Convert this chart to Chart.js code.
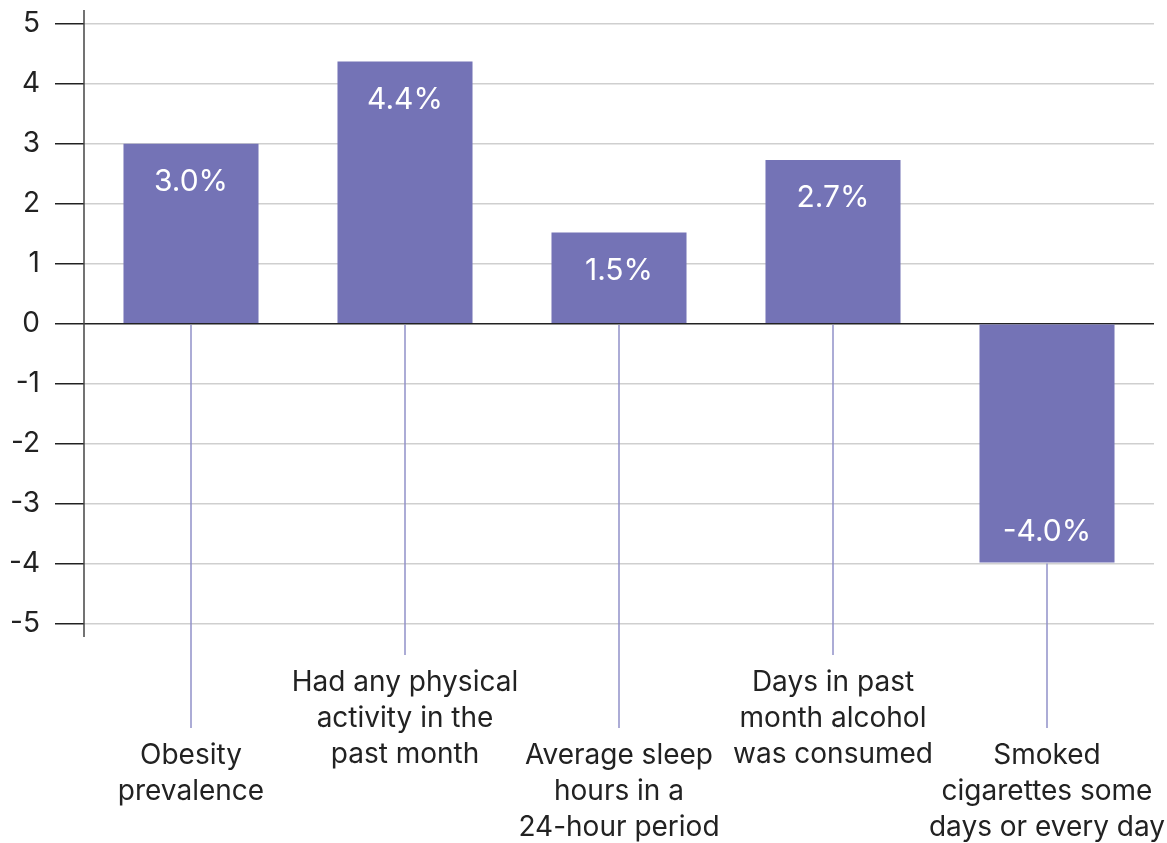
<!DOCTYPE html>
<html>
<head>
<meta charset="utf-8">
<script src="https://cdn.jsdelivr.net/npm/chart.js@4"></script>
<style>
  html, body { margin: 0; padding: 0; background: #fff; }
  #wrap { width: 1167px; height: 843px; position: relative; }
</style>
</head>
<body>
<div id="wrap"><canvas id="barChart"></canvas></div>
<script>
const categories = [
  ["Obesity", "prevalence"],
  ["Had any physical", "activity in the", "past month"],
  ["Average sleep", "hours in a", "24-hour period"],
  ["Days in past", "month alcohol", "was consumed"],
  ["Smoked", "cigarettes some", "days or every day"]
];
const changes = [3.0, 4.37, 1.52, 2.73, -3.98];
const changeLabels = ["3.0%", "4.4%", "1.5%", "2.7%", "-4.0%"];
const yTicks = [-5, -4, -3, -2, -1, 0, 1, 2, 3, 4, 5];

const FONT = "Inter, 'Noto Sans', sans-serif";

// axis line, value labels inside bars, leader lines down to the category labels
const annotate = {
  id: "annotate",
  afterDatasetsDraw(chart) {
    const { ctx, chartArea, scales: { x, y } } = chart;
    const meta = chart.getDatasetMeta(0);
    ctx.save();

    ctx.strokeStyle = "#444";
    ctx.lineWidth = 1.5;
    ctx.beginPath();
    ctx.moveTo(chartArea.left, chartArea.top);
    ctx.lineTo(chartArea.left, chartArea.bottom);
    ctx.stroke();

    ctx.textAlign = "center";
    ctx.textBaseline = "middle";
    meta.data.forEach((bar, i) => {
      const v = changes[i];
      ctx.fillStyle = "#fff";
      ctx.font = "30px " + FONT;
      const ty = v >= 0 ? y.getPixelForValue(v) + 38 : y.getPixelForValue(v) - 31;
      ctx.fillText(changeLabels[i], bar.x, ty);

      const cx = x.getPixelForValue(i);
      const start = y.getPixelForValue(Math.min(v, 0));
      const high = i % 2 === 1;
      const end = chartArea.bottom + (high ? 18 : 91);
      ctx.strokeStyle = "#9190c9";
      ctx.lineWidth = 1.5;
      ctx.beginPath();
      ctx.moveTo(cx, start + 1);
      ctx.lineTo(cx, end);
      ctx.stroke();

      ctx.fillStyle = "#222";
      ctx.font = "28px " + FONT;
      categories[i].forEach((line, k) => {
        ctx.fillText(line, cx, end + 28 + k * 36);
      });
    });
    ctx.restore();
  }
};

new Chart(document.getElementById("barChart"), {
  type: "bar",
  data: {
    labels: categories.map(c => c.join(" ")),
    datasets: [{
      data: changes,
      backgroundColor: "#7473b6",
      borderWidth: 0,
      barPercentage: 0.631,
      categoryPercentage: 1
    }]
  },
  options: {
    responsive: true,
    maintainAspectRatio: false,
    animation: false,
    layout: { padding: { top: 10, right: 13, bottom: 206, left: 0 } },
    plugins: { legend: { display: false }, tooltip: { enabled: false } },
    scales: {
      x: { display: false },
      y: {
        min: -5.22,
        max: 5.23,
        afterBuildTicks: scale => { scale.ticks = yTicks.map(v => ({ value: v })); },
        afterFit: scale => {
          scale.width = 84;
          scale.paddingTop = 0;
          scale.paddingBottom = 0;
        },
        border: { display: false },
        grid: {
          color: ctx => ctx.tick && ctx.tick.value === 0 ? "#222" : "#cfcfcf",
          lineWidth: 1.5,
          tickColor: "#222",
          tickLength: 29
        },
        ticks: {
          color: "#222",
          padding: 15,
          font: { family: FONT, size: 28 },
          callback: v => String(v)
        }
      }
    }
  },
  plugins: [annotate]
});
</script>
</body>
</html>
